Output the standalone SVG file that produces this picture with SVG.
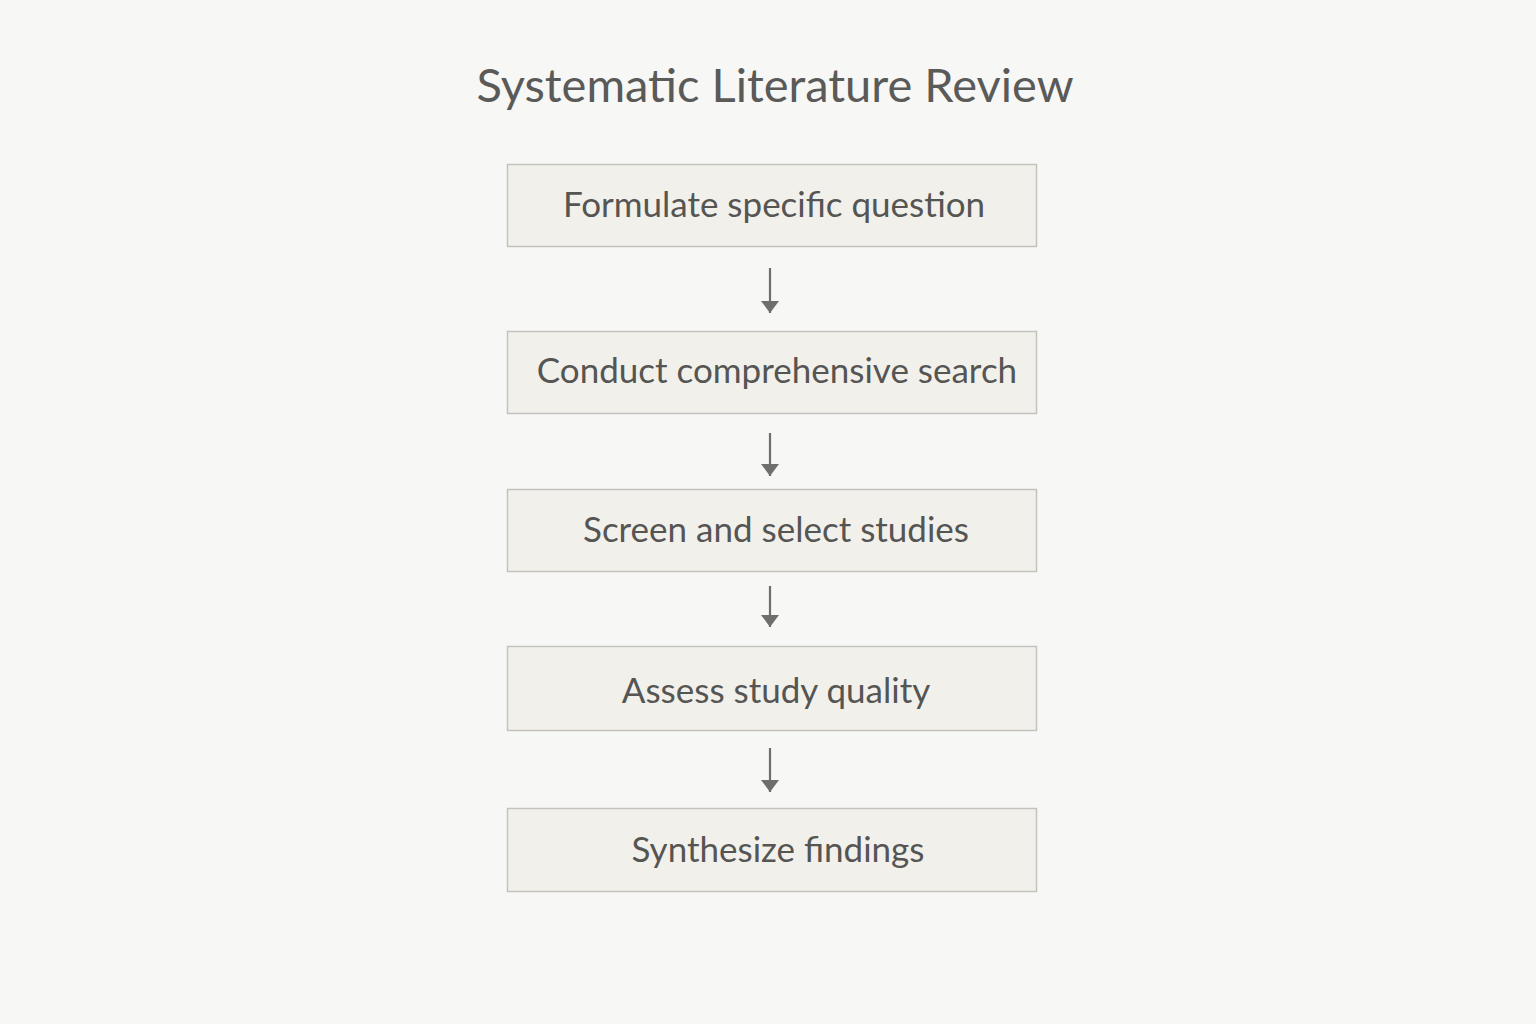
<svg xmlns="http://www.w3.org/2000/svg" width="1536" height="1024" viewBox="0 0 1536 1024">
<defs>
<style>
.bg{fill:#f7f7f5}
.box{fill:#f2f0eb;stroke:#c4c2be;stroke-width:1.5}
.lbl{font-family:Lato,"Open Sans","Liberation Sans",sans-serif;font-size:35px;fill:#555553;text-anchor:middle}
.title{font-family:Lato,"Open Sans","Liberation Sans",sans-serif;font-size:47px;fill:#5a5a58;text-anchor:middle}
.conn{stroke:#6e6e6c;stroke-width:2.2;fill:none}
</style>
<marker id="ah" markerWidth="13" markerHeight="18" refX="12" refY="9" orient="auto" markerUnits="userSpaceOnUse" viewBox="0 0 13 18">
<path d="M0,0 L12,9 L0,18 z" fill="#6e6e6c"/>
</marker>
</defs>
<rect class="bg" x="0" y="0" width="1536" height="1024"/>
<text class="title" x="775" y="102">Systematic Literature Review</text>
<g id="connectors">
<line class="conn" x1="770" y1="268" x2="770" y2="313" marker-end="url(#ah)"/>
<line class="conn" x1="770" y1="433" x2="770" y2="476" marker-end="url(#ah)"/>
<line class="conn" x1="770" y1="586" x2="770" y2="627" marker-end="url(#ah)"/>
<line class="conn" x1="770" y1="748" x2="770" y2="792" marker-end="url(#ah)"/>
</g>
<g id="n1"><rect class="box" x="507.500" y="164.500" width="529" height="82"/><text class="lbl" x="774" y="217">Formulate specific question</text></g>
<g id="n2"><rect class="box" x="507.500" y="331.500" width="529" height="82"/><text class="lbl" x="777" y="383">Conduct comprehensive search</text></g>
<g id="n3"><rect class="box" x="507.500" y="489.500" width="529" height="82"/><text class="lbl" x="776" y="542">Screen and select studies</text></g>
<g id="n4"><rect class="box" x="507.500" y="646.500" width="529" height="84"/><text class="lbl" x="776" y="703">Assess study quality</text></g>
<g id="n5"><rect class="box" x="507.500" y="808.500" width="529" height="83"/><text class="lbl" x="778" y="862">Synthesize findings</text></g>
</svg>
